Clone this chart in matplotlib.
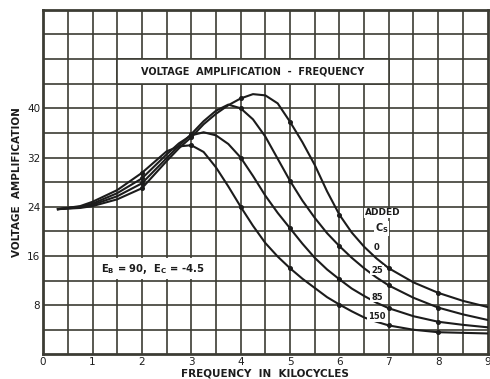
import matplotlib
matplotlib.use("Agg")
import matplotlib.pyplot as plt
from matplotlib.patches import Rectangle

# frequency in kilocycles
freq = [0.3, 0.75, 1.0, 1.5, 2.0, 2.5, 2.75, 3.0, 3.25, 3.5, 3.75, 4.0, 4.25,
        4.5, 4.75, 5.0, 5.25, 5.5, 5.75, 6.0, 6.25, 6.5, 6.75, 7.0, 7.5, 8.0, 8.5, 9.0]

# voltage amplification for each added C_s
amp_0 = [23.6, 23.8, 24.1, 25.2, 27.0, 31.4, 33.5, 35.3, 37.4, 39.1, 40.5, 41.6, 42.3,
         42.1, 40.8, 37.8, 34.5, 30.8, 26.5, 22.7, 19.8, 17.5, 15.6, 14.0, 11.7, 10.0, 8.7, 7.7]
amp_25 = [23.6, 23.9, 24.3, 25.7, 27.8, 31.9, 33.9, 35.8, 37.9, 39.6, 40.6, 40.0, 38.2,
          35.4, 31.8, 28.2, 25.0, 22.2, 19.7, 17.6, 15.7, 14.0, 12.5, 11.2, 9.2, 7.6, 6.5, 5.6]
amp_85 = [23.6, 24.0, 24.5, 26.2, 28.6, 32.5, 34.3, 35.6, 36.1, 35.6, 34.2, 32.0, 29.0,
          25.8, 23.0, 20.5, 18.0, 15.7, 13.8, 12.2, 10.7, 9.5, 8.4, 7.5, 6.2, 5.3, 4.8, 4.4]
amp_150 = [23.6, 24.1, 24.8, 26.7, 29.5, 33.0, 33.8, 34.0, 32.9, 30.4, 27.3, 24.0, 20.9,
           18.1, 15.9, 14.0, 12.3, 10.8, 9.3, 8.1, 7.0, 6.0, 5.3, 4.7, 4.0, 3.6, 3.5, 3.4]

curves = [amp_0, amp_25, amp_85, amp_150]
curve_labels = ["0", "25", "85", "150"]
label_y = [17.4, 13.7, 9.3, 6.2]
dot_freqs = [2.0, 3.0, 4.0, 5.0, 6.0, 7.0, 8.0]

x_ticks = [0, 1, 2, 3, 4, 5, 6, 7, 8, 9]
y_ticks = [8, 16, 24, 32, 40]

ink = "#1c1c1c"
grid_col = "#3c3c34"
plt.rcParams['font.family'] = ['DejaVu Sans']

fig = plt.figure(figsize=(4.9, 3.79), dpi=100)
ax = fig.add_axes([0.088, 0.065, 0.907, 0.909])

# grid every half kilocycle and every 4 units
for gx in [i * 0.5 for i in range(1, 18)]:
    ax.axvline(gx, color=grid_col, lw=1.2, zorder=1)
for gy in range(4, 56, 4):
    ax.axhline(gy, color=grid_col, lw=1.2, zorder=1)

for amp in curves:
    ax.plot(freq, amp, color=ink, lw=1.5, zorder=4, solid_joinstyle="round")
    pts = [i for i, f in enumerate(freq) if f in dot_freqs]
    ax.plot([freq[i] for i in pts], [amp[i] for i in pts], 'o', color=ink, ms=2.6, zorder=5)

# title box
ax.add_patch(Rectangle((1.5, 44), 5.5, 4, facecolor="white", edgecolor=grid_col, lw=1.2, zorder=3))
ax.text(4.25, 46, "VOLTAGE  AMPLIFICATION  -  FREQUENCY", ha="center", va="center",
        fontsize=7, fontweight="bold", color=ink, zorder=6)

ax.text(2.22, 13.9, r"$\mathbf{E_B}$ = 90,  $\mathbf{E_C}$ = -4.5", ha="center", va="center",
        fontsize=7.2, fontweight="bold", color=ink, zorder=6,
        bbox=dict(facecolor="white", edgecolor="none", pad=2.5))

ax.text(6.88, 23.0, "ADDED", ha="center", va="center", fontsize=6.5, fontweight="bold",
        color=ink, zorder=6, bbox=dict(facecolor="white", edgecolor="none", pad=0.5))
ax.text(6.86, 20.5, r"$\mathbf{C_S}$", ha="center", va="center", fontsize=7,
        color=ink, zorder=6, bbox=dict(facecolor="white", edgecolor="none", pad=0.5))
for lab, ly in zip(curve_labels, label_y):
    ax.text(6.76, ly, lab, ha="center", va="center", fontsize=6, fontweight="bold",
            color=ink, zorder=6, bbox=dict(facecolor="white", edgecolor="none", pad=0.6))

ax.set_xlim(0, 9)
ax.set_ylim(0, 56)
ax.set_xticks(x_ticks)
ax.set_yticks(y_ticks)
ax.tick_params(length=0, labelsize=7.5, colors=ink, pad=2)
for s in ax.spines.values():
    s.set_linewidth(2)
    s.set_color(grid_col)

ax.set_xlabel("FREQUENCY  IN  KILOCYCLES", fontsize=7.5, fontweight="bold", color=ink, labelpad=1)
ax.set_ylabel("VOLTAGE  AMPLIFICATION", fontsize=7.5, fontweight="bold", color=ink, labelpad=4)

fig.savefig("out.png", dpi=100)
